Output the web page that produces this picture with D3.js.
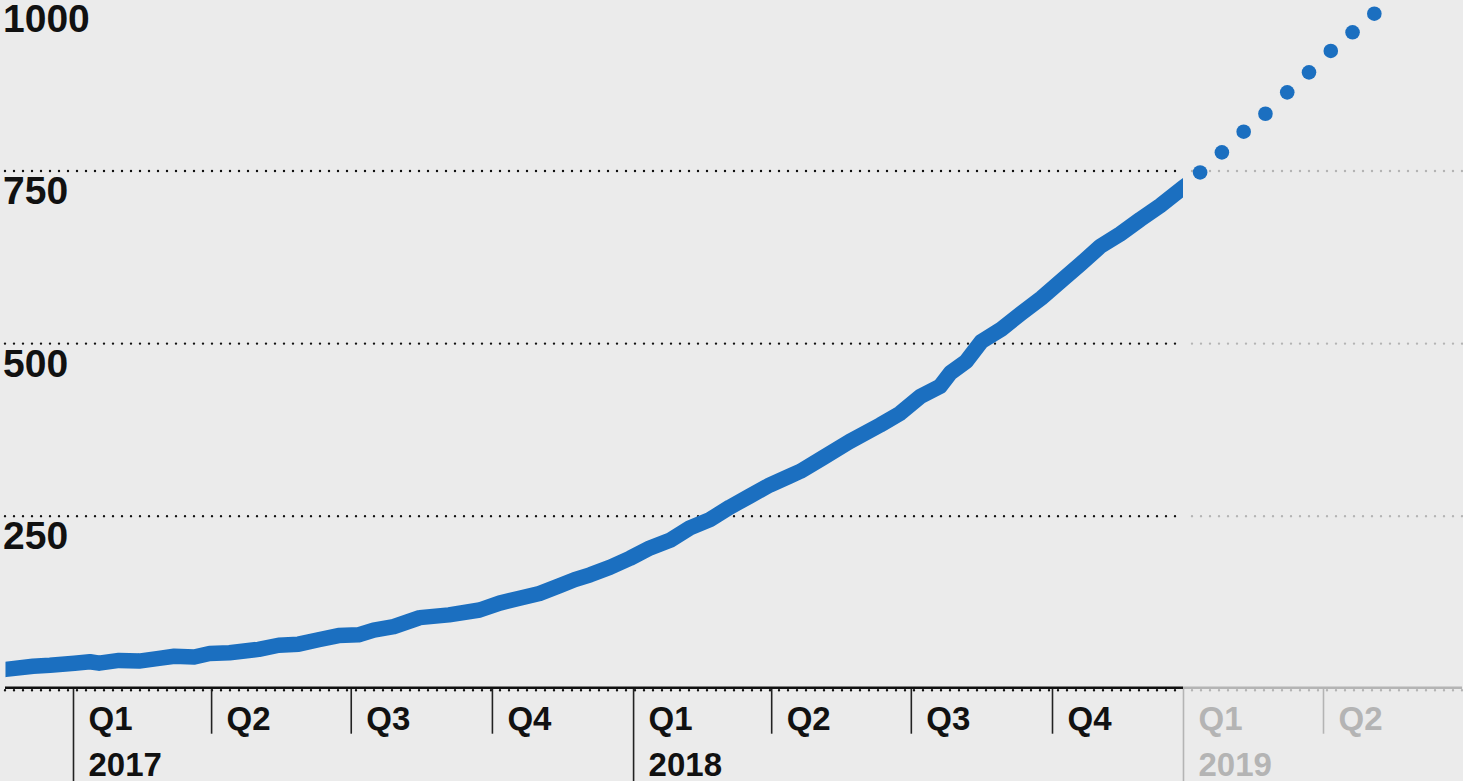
<!DOCTYPE html>
<html>
<head>
<meta charset="utf-8">
<script src="https://cdn.jsdelivr.net/npm/d3@7"></script>
<style>
    html, body { margin: 0; padding: 0; background: #ebebeb; overflow: hidden; }
    svg { display: block; font-family: "Liberation Sans", Arial, sans-serif; }
</style>
</head>
<body>
<svg id="chart" width="1463" height="781"></svg>
<script>
"use strict"

// observed series (solid line)
var dates = ["2016-11-18", "2016-12-06", "2016-12-17", "2017-01-02", "2017-01-12", "2017-01-18",
    "2017-01-31", "2017-02-13", "2017-02-26", "2017-03-08", "2017-03-21", "2017-03-31",
    "2017-04-13", "2017-05-02", "2017-05-15", "2017-05-28", "2017-06-10", "2017-06-23",
    "2017-07-06", "2017-07-16", "2017-07-29", "2017-08-15", "2017-09-03", "2017-09-23",
    "2017-10-06", "2017-10-19", "2017-11-01", "2017-11-14", "2017-11-24", "2017-12-04",
    "2017-12-17", "2017-12-30", "2018-01-12", "2018-01-25", "2018-02-07", "2018-02-20",
    "2018-03-05", "2018-03-18", "2018-03-31", "2018-04-13", "2018-04-20", "2018-05-05",
    "2018-05-22", "2018-06-11", "2018-06-24", "2018-07-07", "2018-07-20", "2018-07-27",
    "2018-08-06", "2018-08-16", "2018-08-29", "2018-09-11", "2018-09-24", "2018-10-07",
    "2018-10-21", "2018-11-04", "2018-11-18", "2018-12-02", "2018-12-16", "2019-01-01"];
var values = [28, 32.5, 34, 37, 39, 37,
    41, 40, 44, 47, 46, 51,
    52, 57, 63, 64.5, 71, 77,
    78, 85, 90, 103, 107, 114,
    124, 131, 138, 149, 158, 165,
    176, 189, 204, 215, 233, 245,
    263, 279, 295, 308, 315, 335,
    358, 382, 399, 423, 438, 458,
    474, 503, 521, 544, 566, 590,
    615, 641, 659, 680, 700, 726];

// projection (dots)
var projDates = ["2019-01-12", "2019-01-26", "2019-02-09", "2019-02-23", "2019-03-09",
    "2019-03-23", "2019-04-06", "2019-04-20", "2019-05-04"];
var projValues = [748, 777, 807, 833, 864, 893, 924, 951, 978];

var yTicks = [0, 250, 500, 750, 1000];
var yLabels = ["", "250", "500", "750", "1000"];

var quarterTicks = ["2017-01-01", "2017-04-01", "2017-07-01", "2017-10-01", "2018-01-01",
    "2018-04-01", "2018-07-01", "2018-10-01", "2019-01-01", "2019-04-01"];
var quarterLabels = ["Q1", "Q2", "Q3", "Q4", "Q1", "Q2", "Q3", "Q4", "Q1", "Q2"];
var yearLabels = ["2017", "", "", "", "2018", "", "", "", "2019", ""];

var today = "2019-01-01";

var parse = d3.timeParse("%Y-%m-%d");
var blue = "#1b6fc0", ink = "#111", faded = "#b4b4b4";

var svg = d3.select("#chart"),
    width = +svg.attr("width"),
    height = +svg.attr("height");

var left = 5;

// the last quarter before the projection is drawn a little narrower
var x = d3.scaleTime()
    .domain([parse("2017-01-01"), parse("2018-10-01"), parse("2019-01-01"), parse("2019-04-01")])
    .range([73, 1052, 1183, 1323]);
var y = d3.scaleLinear()
    .domain([0, 1000])
    .range([688.7, -1.5]);

var split = x(parse(today));

var series = dates.map(function(d, i) { return { date: parse(d), value: values[i] }; });
var proj = projDates.map(function(d, i) { return { date: parse(d), value: projValues[i] }; });

// dotted grid, dark up to today and grey after
var grid = svg.append("g").attr("class", "grid");
grid.selectAll("line.past")
    .data(yTicks)
    .enter().append("line")
    .attr("class", "past")
    .attr("x1", left)
    .attr("x2", split)
    .attr("y1", function(d) { return y(d) + (d === 0 ? 1.5 : 0); })
    .attr("y2", function(d) { return y(d) + (d === 0 ? 1.5 : 0); })
    .attr("stroke", ink)
    .attr("stroke-width", 2.4)
    .attr("stroke-linecap", "round")
    .attr("stroke-dasharray", "0,9");
grid.selectAll("line.future")
    .data(yTicks)
    .enter().append("line")
    .attr("class", "future")
    .attr("x1", split + 9)
    .attr("x2", width)
    .attr("y1", function(d) { return y(d) + (d === 0 ? 1.5 : 0); })
    .attr("y2", function(d) { return y(d) + (d === 0 ? 1.5 : 0); })
    .attr("stroke", faded)
    .attr("stroke-width", 2.4)
    .attr("stroke-linecap", "round")
    .attr("stroke-dasharray", "0,9");

// y labels sit just below their grid line
svg.append("g")
    .attr("class", "ylabels")
    .selectAll("text")
    .data(yTicks)
    .enter().append("text")
    .attr("x", left - 2)
    .attr("y", function(d) { return y(d) + 33; })
    .style("font-size", "39px")
    .style("font-weight", "bold")
    .attr("fill", ink)
    .text(function(d, i) { return yLabels[i]; });

// x axis
var xAxis = d3.axisBottom(x)
    .tickValues(quarterTicks.map(parse))
    .tickSize(46)
    .tickPadding(0)
    .tickFormat(function(d, i) { return quarterLabels[i]; });

var ax = svg.append("g")
    .attr("class", "axis")
    .attr("transform", "translate(0," + (y(0) - 1) + ")")
    .call(xAxis);
ax.select(".domain").remove();

ax.selectAll(".tick line")
    .attr("stroke-width", 1.6)
    .attr("stroke", function(d) { return x(d) >= split ? faded : "#222"; })
    .attr("y2", function(d, i) { return yearLabels[i] ? height : 46; });

ax.selectAll(".tick text")
    .attr("text-anchor", "start")
    .attr("x", 15)
    .attr("y", 42)
    .attr("dy", null)
    .style("font-size", "33px")
    .style("font-weight", "bold")
    .attr("fill", function(d) { return x(d) >= split ? faded : ink; });

ax.selectAll(".tick")
    .append("text")
    .attr("class", "year")
    .attr("text-anchor", "start")
    .attr("x", 15)
    .attr("y", 88)
    .style("font-size", "33px")
    .style("font-weight", "bold")
    .attr("fill", function(d) { return x(d) >= split ? faded : ink; })
    .text(function(d, i) { return yearLabels[i]; });

// baseline, black for the past and grey for the projection
svg.append("line")
    .attr("x1", left).attr("x2", split)
    .attr("y1", y(0) - 1).attr("y2", y(0) - 1)
    .attr("stroke", ink)
    .attr("stroke-width", 2.6);
svg.append("line")
    .attr("x1", split).attr("x2", width - 1)
    .attr("y1", y(0) - 1).attr("y2", y(0) - 1)
    .attr("stroke", faded)
    .attr("stroke-width", 2.6);

// solid line, clipped square at both ends
svg.append("clipPath")
    .attr("id", "clip")
    .append("rect")
    .attr("x", x(series[0].date))
    .attr("y", 0)
    .attr("width", split - x(series[0].date))
    .attr("height", height);

var line = d3.line()
    .x(function(d) { return x(d.date); })
    .y(function(d) { return y(d.value); });

var ext = [{ date: d3.timeDay.offset(series[0].date, -5), value: series[0].value - 1 }]
    .concat(series)
    .concat([{ date: d3.timeDay.offset(series[series.length - 1].date, 5), value: series[series.length - 1].value + 8 }]);

svg.append("path")
    .datum(ext)
    .attr("clip-path", "url(#clip)")
    .attr("fill", "none")
    .attr("stroke", blue)
    .attr("stroke-width", 15.5)
    .attr("stroke-linejoin", "round")
    .attr("d", line);

// projection dots
svg.append("g")
    .attr("class", "proj")
    .selectAll("circle")
    .data(proj)
    .enter().append("circle")
    .attr("cx", function(d) { return x(d.date); })
    .attr("cy", function(d) { return y(d.value); })
    .attr("r", 7.3)
    .attr("fill", blue);
</script>
</body>
</html>
